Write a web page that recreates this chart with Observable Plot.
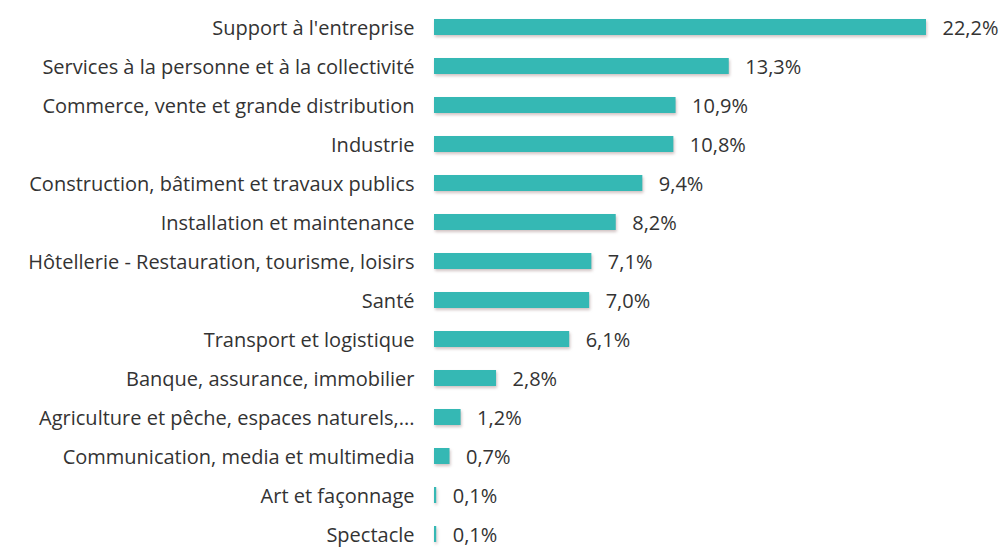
<!DOCTYPE html>
<html>
<head>
<meta charset="utf-8">
<script src="https://cdn.jsdelivr.net/npm/d3@7"></script>
<script src="https://cdn.jsdelivr.net/npm/@observablehq/plot@0.6"></script>
<style>
  html, body { margin: 0; padding: 0; background: #fff; }
  #chart svg { overflow: visible; }
  #chart rect { filter: drop-shadow(1px 2px 1.5px rgba(120,80,80,0.35)); }
</style>
</head>
<body>
<div id="chart"></div>
<script>
const categories = [
  "Support à l'entreprise",
  "Services à la personne et à la collectivité",
  "Commerce, vente et grande distribution",
  "Industrie",
  "Construction, bâtiment et travaux publics",
  "Installation et maintenance",
  "Hôtellerie - Restauration, tourisme, loisirs",
  "Santé",
  "Transport et logistique",
  "Banque, assurance, immobilier",
  "Agriculture et pêche, espaces naturels,...",
  "Communication, media et multimedia",
  "Art et façonnage",
  "Spectacle"
];
const values = [22.2, 13.3, 10.9, 10.8, 9.4, 8.2, 7.1, 7.0, 6.1, 2.8, 1.2, 0.7, 0.1, 0.1];
const valueLabels = ["22,2%", "13,3%", "10,9%", "10,8%", "9,4%", "8,2%", "7,1%", "7,0%", "6,1%", "2,8%", "1,2%", "0,7%", "0,1%", "0,1%"];

const data = categories.map((c, i) => ({category: c, value: values[i], label: valueLabels[i]}));

const chart = Plot.plot({
  width: 1005,
  height: 550,
  marginTop: 0,
  marginBottom: 0,
  marginLeft: 0,
  marginRight: 0,
  style: {fontFamily: "'Open Sans', sans-serif", fontSize: "20px", color: "#333", background: "#fff"},
  x: {domain: [0, 22.2], range: [434, 926], axis: null},
  y: {domain: categories, range: [3.2, 557.6], paddingInner: 0.6, paddingOuter: 0.3, axis: null},
  marks: [
    Plot.barX(data, {x: "value", y: "category", fill: "#35b8b4"}),
    Plot.text(data, {x: 0, y: "category", text: "category", textAnchor: "end", dx: -20, dy: 1.5, fill: "#333", fontSize: 20}),
    Plot.text(data, {x: "value", y: "category", text: "label", textAnchor: "start", dx: 16, dy: 1.5, fill: "#333", fontSize: 20})
  ]
});
document.getElementById("chart").appendChild(chart);
</script>
</body>
</html>
